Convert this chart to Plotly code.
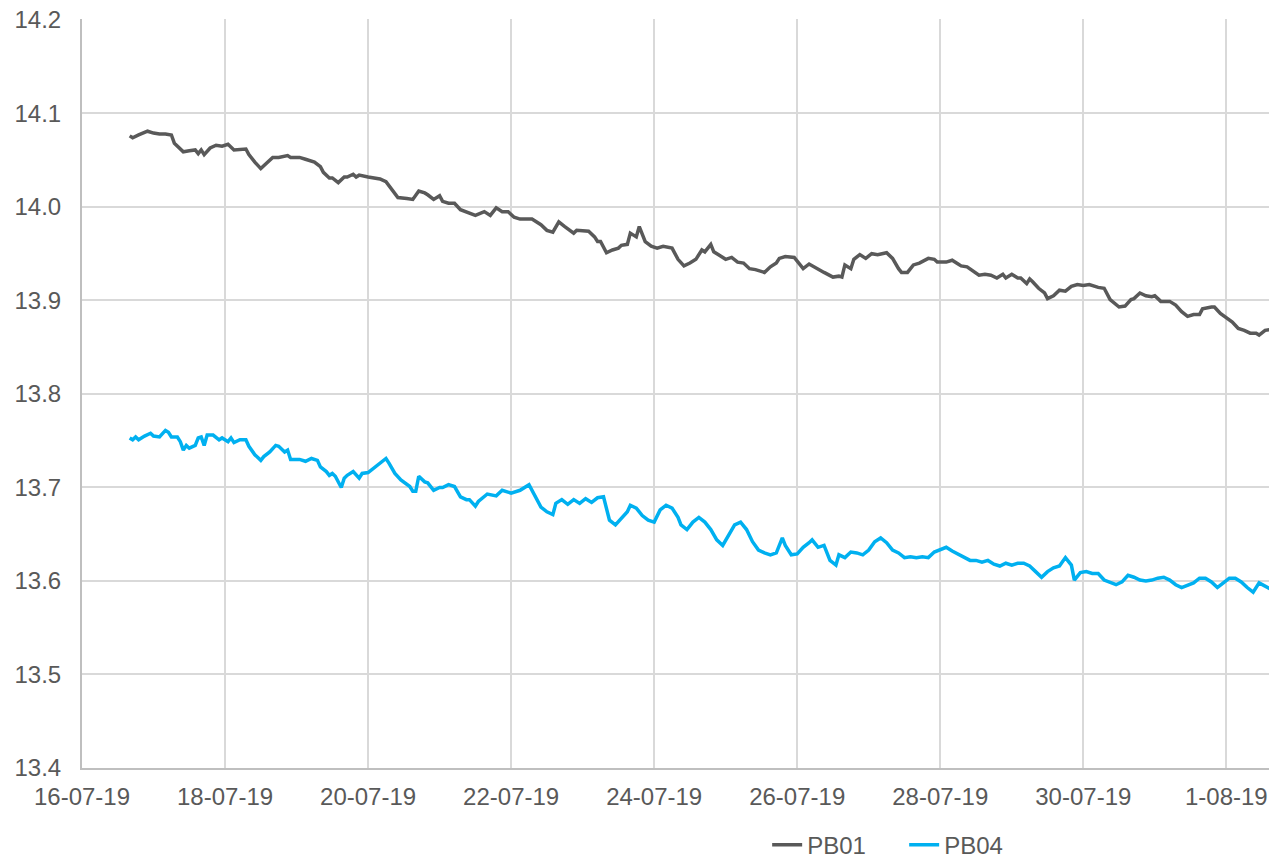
import pandas as pd
import plotly.graph_objects as go

# Hours since 2019-07-16 00:00 and values
pb01_hours = [16, 17, 19, 22, 24, 26, 28, 30, 31, 34, 36, 38, 39, 40, 41, 43, 45, 47, 49, 51,
              55, 56, 58, 60, 62, 64, 66, 69, 70, 73, 75, 78, 80, 81, 83, 84, 86, 88, 89, 91,
              92, 93, 96, 98, 100, 102, 104, 106, 109, 111, 113, 115, 116, 118, 120, 121, 123,
              125, 127, 130, 132, 135, 137, 139, 141, 143, 145, 147, 149, 151, 154, 156, 158,
              160, 162, 163, 164, 165, 166, 170, 172, 173, 174, 176, 178, 180, 181, 183, 184,
              186, 187, 189, 191, 193, 195, 198, 200, 202, 204, 206, 208, 209, 211, 212, 214,
              216, 218, 220, 222, 224, 226, 229, 231, 233, 234, 236, 239, 241, 242, 244, 246,
              247, 249, 252, 254, 255, 256, 258, 259, 261, 263, 265, 267, 270, 272, 274, 275,
              277, 279, 281, 284, 286, 287, 290, 292, 294, 295, 297, 299, 300, 301, 303, 305,
              307, 309, 310, 312, 314, 315, 317, 318, 319, 321, 323, 324, 326, 328, 330, 332,
              334, 336, 338, 341, 343, 345, 348, 350, 352, 353, 355, 357, 359, 360, 362, 365,
              367, 369, 371, 373, 375, 376, 379, 380, 382, 384, 386, 388, 390, 392, 394, 395,
              397, 399, 400]
pb01_values = [14.076, 14.074, 14.077, 14.081, 14.079, 14.078, 14.078, 14.077, 14.068, 14.059,
               14.060, 14.061, 14.057, 14.061, 14.056, 14.063, 14.066, 14.065, 14.067, 14.061,
               14.062, 14.056, 14.048, 14.041, 14.047, 14.053, 14.053, 14.055, 14.053, 14.053,
               14.051, 14.048, 14.043, 14.037, 14.031, 14.031, 14.026, 14.032, 14.032, 14.035,
               14.032, 14.034, 14.032, 14.031, 14.030, 14.027, 14.018, 14.010, 14.009, 14.008,
               14.017, 14.015, 14.013, 14.008, 14.012, 14.006, 14.004, 14.004, 13.997, 13.993,
               13.991, 13.995, 13.991, 13.999, 13.995, 13.995, 13.989, 13.987, 13.987, 13.987,
               13.981, 13.975, 13.973, 13.984, 13.979, 13.977, 13.975, 13.972, 13.975, 13.974,
               13.968, 13.963, 13.963, 13.951, 13.954, 13.956, 13.959, 13.960, 13.972, 13.968,
               13.979, 13.963, 13.958, 13.956, 13.958, 13.956, 13.944, 13.937, 13.940, 13.944,
               13.954, 13.952, 13.960, 13.952, 13.948, 13.944, 13.946, 13.941, 13.940, 13.934,
               13.933, 13.930, 13.936, 13.940, 13.945, 13.947, 13.946, 13.937, 13.934, 13.939,
               13.935, 13.934, 13.930, 13.925, 13.926, 13.925, 13.938, 13.934, 13.944, 13.949,
               13.945, 13.950, 13.949, 13.951, 13.945, 13.934, 13.930, 13.930, 13.938, 13.940,
               13.945, 13.944, 13.941, 13.941, 13.943, 13.939, 13.937, 13.936, 13.932, 13.930,
               13.927, 13.928, 13.927, 13.924, 13.928, 13.924, 13.928, 13.924, 13.924, 13.918,
               13.923, 13.920, 13.913, 13.908, 13.902, 13.905, 13.911, 13.910, 13.915, 13.917,
               13.916, 13.917, 13.914, 13.913, 13.901, 13.893, 13.894, 13.901, 13.902, 13.908,
               13.905, 13.904, 13.905, 13.899, 13.899, 13.895, 13.888, 13.883, 13.885, 13.885,
               13.891, 13.893, 13.893, 13.886, 13.881, 13.877, 13.870, 13.868, 13.865, 13.865,
               13.863, 13.868, 13.869, 13.872]

pb04_hours = [16, 17, 18, 19, 21, 23, 24, 26, 28, 29, 30, 32, 33, 34, 35, 36, 38, 39, 40, 41,
              42, 44, 46, 47, 49, 50, 51, 53, 55, 56, 58, 60, 61, 63, 65, 66, 68, 69, 70, 73,
              75, 77, 79, 80, 82, 83, 84, 85, 87, 88, 89, 91, 93, 94, 96, 98, 99, 102, 103,
              105, 107, 108, 110, 111, 112, 113, 115, 116, 118, 120, 121, 123, 125, 127, 129,
              130, 132, 133, 136, 139, 141, 144, 147, 150, 152, 154, 156, 158, 159, 161, 163,
              165, 167, 169, 171, 173, 175, 177, 179, 181, 183, 184, 186, 188, 190, 192, 194,
              196, 198, 200, 201, 203, 205, 207, 209, 211, 213, 215, 217, 219, 221, 223, 225,
              227, 229, 231, 233, 235, 236, 238, 240, 242, 244, 245, 247, 249, 251, 253, 254,
              256, 258, 260, 262, 264, 266, 268, 270, 272, 274, 276, 278, 280, 282, 284, 286,
              288, 290, 292, 294, 296, 298, 300, 302, 304, 306, 308, 310, 312, 314, 316, 318,
              320, 322, 324, 326, 328, 330, 332, 333, 335, 337, 339, 341, 343, 345, 347, 349,
              351, 353, 355, 357, 359, 361, 363, 365, 367, 369, 371, 373, 375, 377, 379, 381,
              383, 385, 387, 389, 391, 393, 395, 397, 399, 401]
pb04_values = [13.753, 13.751, 13.754, 13.751, 13.755, 13.758, 13.755, 13.754, 13.761, 13.759,
               13.754, 13.754, 13.749, 13.740, 13.745, 13.742, 13.745, 13.753, 13.754, 13.745,
               13.756, 13.756, 13.751, 13.753, 13.749, 13.753, 13.748, 13.751, 13.751, 13.744,
               13.735, 13.729, 13.733, 13.738, 13.745, 13.744, 13.738, 13.740, 13.730, 13.730,
               13.728, 13.731, 13.729, 13.722, 13.717, 13.713, 13.715, 13.712, 13.700, 13.710,
               13.713, 13.717, 13.710, 13.715, 13.716, 13.721, 13.724, 13.731, 13.726, 13.715,
               13.708, 13.706, 13.701, 13.696, 13.696, 13.712, 13.706, 13.705, 13.697, 13.700,
               13.700, 13.703, 13.701, 13.690, 13.687, 13.687, 13.680, 13.685, 13.693, 13.691,
               13.697, 13.694, 13.697, 13.703, 13.690, 13.679, 13.674, 13.671, 13.683, 13.687,
               13.682, 13.687, 13.683, 13.688, 13.684, 13.689, 13.690, 13.665, 13.660, 13.667,
               13.674, 13.681, 13.678, 13.670, 13.665, 13.663, 13.676, 13.681, 13.678, 13.668,
               13.660, 13.655, 13.663, 13.668, 13.663, 13.655, 13.644, 13.638, 13.649, 13.660,
               13.663, 13.655, 13.642, 13.633, 13.630, 13.628, 13.630, 13.646, 13.638, 13.628,
               13.629, 13.636, 13.641, 13.644, 13.636, 13.638, 13.622, 13.617, 13.628, 13.625,
               13.631, 13.630, 13.628, 13.633, 13.642, 13.646, 13.641, 13.633, 13.630, 13.625,
               13.626, 13.625, 13.626, 13.625, 13.631, 13.634, 13.636, 13.632, 13.629, 13.626,
               13.622, 13.622, 13.620, 13.622, 13.618, 13.616, 13.619, 13.617, 13.619, 13.619,
               13.616, 13.610, 13.604, 13.610, 13.614, 13.616, 13.625, 13.617, 13.601, 13.609,
               13.610, 13.608, 13.608, 13.601, 13.598, 13.596, 13.599, 13.606, 13.604, 13.601,
               13.600, 13.601, 13.603, 13.604, 13.601, 13.596, 13.593, 13.596, 13.598, 13.603,
               13.603, 13.599, 13.593, 13.598, 13.603, 13.603, 13.599, 13.593, 13.588, 13.598,
               13.594, 13.591, 13.588]

y_ticks = [13.4, 13.5, 13.6, 13.7, 13.8, 13.9, 14.0, 14.1, 14.2]
y_tick_labels = ["13.4", "13.5", "13.6", "13.7", "13.8", "13.9", "14.0", "14.1", "14.2"]

start = pd.Timestamp("2019-07-16 00:00")
pb01_t = start + pd.to_timedelta(pb01_hours, unit="h")
pb04_t = start + pd.to_timedelta(pb04_hours, unit="h")

font_family = "Liberation Sans, Arial, sans-serif"
text_color = "#595959"
fsize = 24

fig = go.Figure()
fig.add_trace(go.Scatter(x=pb01_t, y=pb01_values, mode="lines", name="PB01",
                         line=dict(color="#595959", width=3.5)))
fig.add_trace(go.Scatter(x=pb04_t, y=pb04_values, mode="lines", name="PB04",
                         line=dict(color="#00B0F0", width=3.5)))

# page body has an 8px margin, so the figure is sized/offset to compensate
fig.update_layout(
    width=1269, height=880,
    margin=dict(l=74, r=0, t=11, b=120),
    paper_bgcolor="white", plot_bgcolor="white",
    font=dict(family=font_family, size=fsize, color=text_color),
    showlegend=True,
    legend=dict(orientation="h", x=0.688, xanchor="center", y=-0.103, yanchor="middle",
                font=dict(size=fsize, color=text_color), tracegroupgap=0,
                entrywidth=92, entrywidthmode="pixels"),
)
fig.update_xaxes(
    type="date", automargin=False, ticklabeloverflow="allow",
    range=[pd.Timestamp("2019-07-16 00:00"), pd.Timestamp("2019-08-01 17:00")],
    tick0="2019-07-16", dtick=2 * 86400000, tickformat="%-d-%m-%y",
    showgrid=True, gridcolor="#D9D9D9", gridwidth=2,
    showline=True, linecolor="#BFBFBF", linewidth=2,
    ticks="", ticklabelstandoff=6, zeroline=False,
    tickfont=dict(size=fsize, color=text_color),
)
fig.update_yaxes(
    automargin=False, ticklabeloverflow="allow",
    range=[13.4, 14.201], tickmode="array", tickvals=y_ticks, ticktext=y_tick_labels,
    showgrid=True, gridcolor="#D9D9D9", gridwidth=2,
    showline=True, linecolor="#BFBFBF", linewidth=2,
    ticks="", ticklabelstandoff=14, zeroline=False,
    tickfont=dict(size=fsize, color=text_color),
)

fig.write_html("out.html")
